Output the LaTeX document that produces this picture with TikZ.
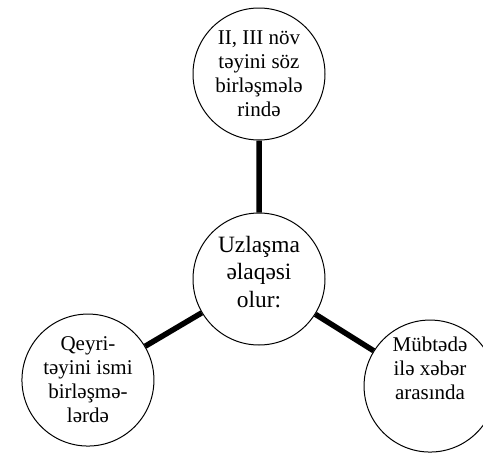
\documentclass[tikz,border=0pt]{standalone}
\usepackage{fontspec}
\setmainfont{Liberation Serif}
\usetikzlibrary{positioning}

\begin{document}
\begin{tikzpicture}[x=1pt, y=1pt]
	\tikzset {node distance=72pt, every node/.style={circle, draw, line width=1pt, minimum size=132pt, inner sep=0pt, align=center, font=\fontsize{21}{24}\selectfont}, link/.style={line width=5.5pt} }
	\useasboundingbox (0,0) rectangle (483,-453);

	\node[font=\fontsize{23.4}{27.5}\selectfont, text depth=15pt] (uzl) at (259,-279) {Uzlaşma\\əlaqəsi\\olur:};
	\node[above=of uzl] (soz) {II, III növ\\təyini söz\\birləşmələ\\rində};
	\node[below left=7pt and 77pt of uzl] (ism) {Qeyri-\\təyini ismi\\birləşmə-\\lərdə};
	\node[below right=13pt and 77pt of uzl, text depth=35pt] (xeb) {Mübtədə\\ilə xəbər\\arasında};

	\draw[link]
		(soz) -- (uzl)
		(ism) -- (uzl)
		(xeb) -- (uzl);
\end{tikzpicture}
\end{document}
